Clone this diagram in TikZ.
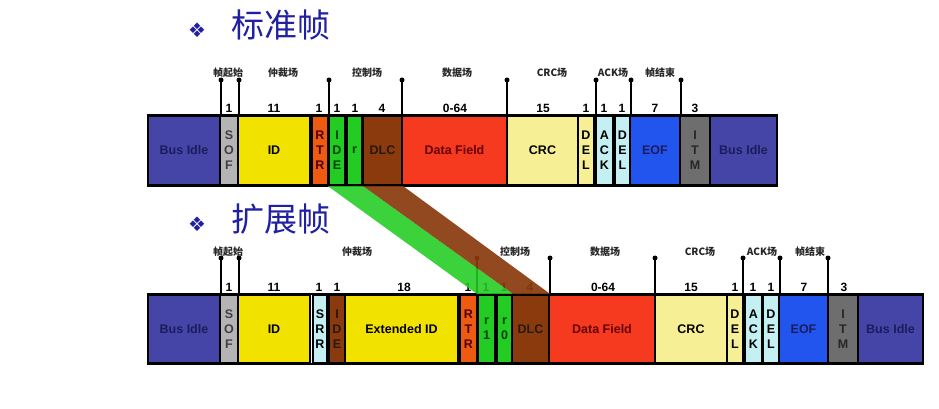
\documentclass[tikz,border=0pt]{standalone}
\usepackage{fontspec}
\setmainfont{Liberation Sans}
\newfontfamily\cjk{Noto Sans CJK SC}
\newfontfamily\dejavu{DejaVu Sans}
\definecolor{idlec}{HTML}{4545A8}
\definecolor{idletxt}{HTML}{1C1C5C}
\definecolor{sofc}{HTML}{B4B4B4}
\definecolor{idc}{HTML}{F2E200}
\definecolor{rtrc}{HTML}{EE5A10}
\definecolor{grnc}{HTML}{22CC22}
\definecolor{brnc}{HTML}{8A3A0C}
\definecolor{datac}{HTML}{F53A20}
\definecolor{crcc}{HTML}{F7EF95}
\definecolor{ackc}{HTML}{C4F0F4}
\definecolor{eofc}{HTML}{2255EE}
\definecolor{itmc}{HTML}{6E6E6E}
\definecolor{titleblue}{HTML}{2020A0}
% name, x1, x2, fill, text colour, text   (row 1)
\newcommand\fieldA[6]{\node[fieldbox, fill=#4, text=#5, minimum width={#3pt-#2pt}, minimum height=69pt] (#1) at ({(#2+#3)/2},150.5) {#6};}
% row 2
\newcommand\fieldB[6]{\node[fieldbox, fill=#4, text=#5, minimum width={#3pt-#2pt}, minimum height=68pt] (#1) at ({(#2+#3)/2},329) {#6};}
\begin{document}
\begin{tikzpicture}[x=1pt,y=-1pt,
 fieldbox/.style={draw=black, line width=2.2pt, inner sep=0pt, align=center, font=\bfseries\fontsize{12.5}{15}\selectfont},
 mdot/.style={circle, fill=black, inner sep=0pt, minimum size=5pt},
 mline/.style={line width=1.8pt},
 fieldlbl/.style={font=\cjk\bfseries\fontsize{10}{10}\selectfont, text=black!85, inner sep=0pt},
 numlbl/.style={font=\bfseries\fontsize{12}{12}\selectfont, inner sep=0pt},
 titletxt/.style={font=\cjk\fontsize{33}{33}\selectfont, text=titleblue, inner sep=0pt},
 bulletsym/.style={font=\dejavu\fontsize{20}{20}\selectfont, text=titleblue, inner sep=0pt},
 bus/.style={line width=2.2pt}]
\fill[white] (0,0) rectangle (939,409);
\useasboundingbox (0,0) rectangle (939,409);

% titles
\node[bulletsym] (b1) at (197,30) {❖};
\node[titletxt] (t1) at (281,25) {标准帧};
\node[bulletsym] (b2) at (197,224) {❖};
\node[titletxt] (t2) at (281,219) {扩展帧};

\coordinate (top1) at (0,116);
\coordinate (top2) at (0,295);

% markers row 1
\foreach \i/\x in {1/221,2/239,3/329,4/402,5/507,6/596,7/631,8/681}{
  \node[mdot] (ma\i) at (\x,80) {};
  \draw[mline] (ma\i.center) -- (ma\i |- top1);
}
% markers row 2
\foreach \i/\x in {1/221,2/239,3/477,4/550,5/655,6/743,7/780,8/828}{
  \node[mdot] (mb\i) at (\x,258) {};
  \draw[mline] (mb\i.center) -- (mb\i |- top2);
}

% field labels
\foreach \i/\x/\t in {1/228/帧起始,2/283/仲裁场,3/367/控制场,4/457/数据场,5/552/CRC场,6/613/ACK场,7/660/帧结束}
  \node[fieldlbl] (la\i) at (\x,73) {\t};
\foreach \i/\x/\t in {1/228/帧起始,2/357/仲裁场,3/515/控制场,4/605/数据场,5/700/CRC场,6/762/ACK场,7/810/帧结束}
  \node[fieldlbl] (lb\i) at (\x,252) {\t};

% bit counts
\foreach \i/\x/\t in {1/229/1,2/274/11,3/319/1,4/337/1,5/355/1,6/382/4,7/455/0-64,8/543/15,9/586/1,10/604/1,11/622/1,12/655/7,13/695/3}
  \node[numlbl] (na\i) at (\x,108) {\t};
\foreach \i/\x/\t in {1/229/1,2/274/11,3/319/1,4/337/1,5/404/18,6/468/1,7/486/1,8/504/1,9/530/4,10/603/0-64,11/691/15,12/735/1,13/753/1,14/771/1,15/804/7,16/844/3}
  \node[numlbl] (nb\i) at (\x,287) {\t};

% row 1 fields
\fieldA{idleA1}{148}{220}{idlec}{idletxt}{Bus Idle}
\fieldA{sofA}{220}{238}{sofc}{black!75}{S\\O\\F}
\fieldA{idA}{238}{310}{idc}{black}{ID}
\fieldA{rtrA}{312}{328}{rtrc}{black!70!red}{R\\T\\R}
\fieldA{ideA}{329}{345}{grnc}{black!75!green}{I\\D\\E}
\fieldA{rA}{347}{362}{grnc}{black!75!green}{r}
\fieldA{dlcA}{363}{402}{brnc}{black!80!brown}{DLC}
\fieldA{dataA}{402}{507}{datac}{black!60!red}{Data Field}
\fieldA{crcA}{507}{578}{crcc}{black}{CRC}
\fieldA{delA1}{578}{594}{crcc}{black}{D\\E\\L}
\fieldA{ackA}{596}{613}{ackc}{black}{A\\C\\K}
\fieldA{delA2}{615}{630}{ackc}{black}{D\\E\\L}
\fieldA{eofA}{630}{680}{eofc}{idletxt}{EOF}
\fieldA{itmA}{680}{710}{itmc}{black!85}{I\\T\\M}
\fieldA{idleA2}{710}{777}{idlec}{idletxt}{Bus Idle}
\draw[bus] (idleA1.north west) -- (idleA2.north east);
\draw[bus] (idleA1.south west) -- (idleA2.south east);

% row 2 fields
\fieldB{idleB1}{148}{220}{idlec}{idletxt}{Bus Idle}
\fieldB{sofB}{220}{238}{sofc}{black!75}{S\\O\\F}
\fieldB{idB}{238}{310}{idc}{black}{ID}
\fieldB{srrB}{313}{327}{ackc}{black}{S\\R\\R}
\fieldB{ideB}{329}{345}{brnc}{black!80!brown}{I\\D\\E}
\fieldB{extB}{345}{458}{idc}{black}{Extended ID}
\fieldB{rtrB}{460}{477}{rtrc}{black!70!red}{R\\T\\R}
\fieldB{roneB}{478}{495}{grnc}{black!75!green}{r\\1}
\fieldB{rzeroB}{497}{512}{grnc}{black!75!green}{r\\0}
\fieldB{dlcB}{512}{549}{brnc}{black!80!brown}{DLC}
\fieldB{dataB}{549}{655}{datac}{black!60!red}{Data Field}
\fieldB{crcB}{655}{727}{crcc}{black}{CRC}
\fieldB{delB1}{727}{743}{crcc}{black}{D\\E\\L}
\fieldB{ackB}{745}{762}{ackc}{black}{A\\C\\K}
\fieldB{delB2}{763}{779}{ackc}{black}{D\\E\\L}
\fieldB{eofB}{779}{828}{eofc}{idletxt}{EOF}
\fieldB{itmB}{828}{858}{itmc}{black!85}{I\\T\\M}
\fieldB{idleB2}{858}{923}{idlec}{idletxt}{Bus Idle}
\draw[bus] (idleB1.north west) -- (idleB2.north east);
\draw[bus] (idleB1.south west) -- (idleB2.south east);

% mapping bands
\fill[grnc, opacity=0.88] (ideA.south west) -- (rA.south east) -- (rzeroB.north east) -- (roneB.north west) -- cycle;
\fill[brnc, opacity=0.92] (rA.south east) -- (dlcA.south east) -- (dlcB.north east) -- (rzeroB.north east) -- cycle;
\end{tikzpicture}
\end{document}
